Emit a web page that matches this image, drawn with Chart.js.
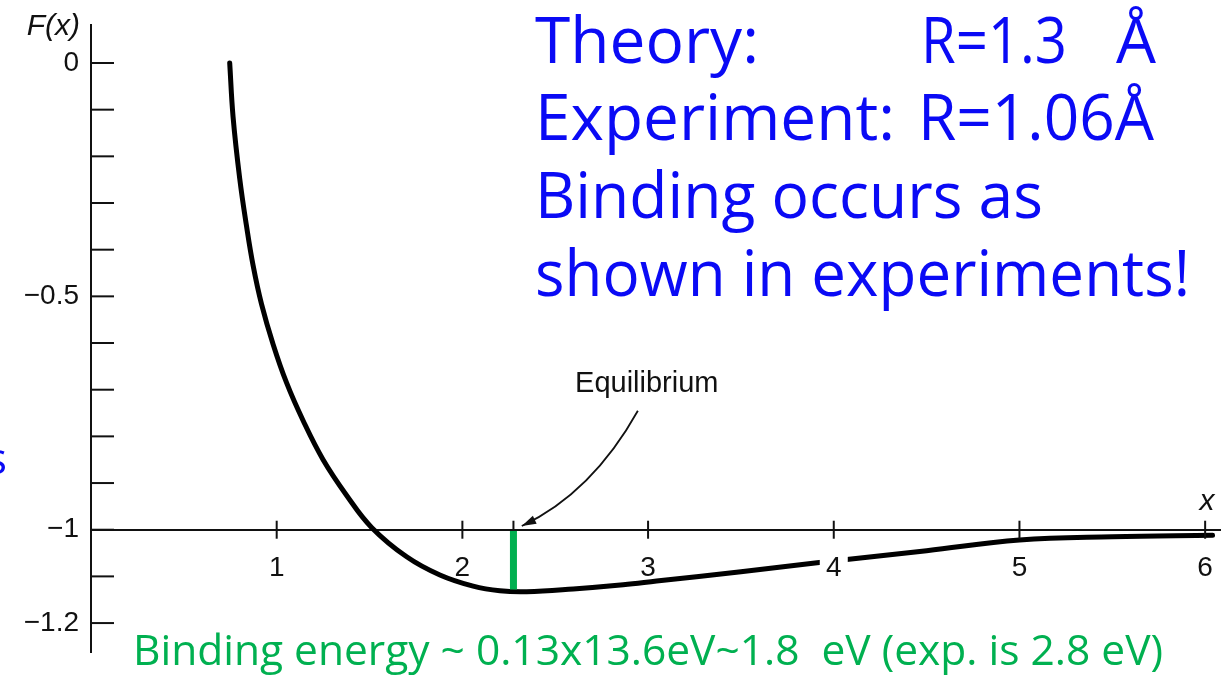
<!DOCTYPE html>
<html>
<head>
<meta charset="utf-8">
<script src="https://cdn.jsdelivr.net/npm/chart.js@4"></script>
<style>
  html, body { margin: 0; padding: 0; background: #fff; }
  #wrap { width: 1228px; height: 675px; position: relative; }
</style>
</head>
<body>
<div id="wrap"><canvas id="forceChart"></canvas></div>
<script>
// curve F(x)
const curveX = [0.747, 0.765, 0.801, 0.837, 0.873, 0.918, 0.981, 1.053, 1.142, 1.25, 1.376, 1.511, 1.70, 1.879, 2.058, 2.202, 2.346, 2.597, 2.866, 3.046, 3.5, 3.91, 4.5, 5.0, 5.5, 6.04];
const curveY = [0, -0.115, -0.248, -0.348, -0.434, -0.516, -0.603, -0.685, -0.766, -0.850, -0.926, -0.995, -1.058, -1.097, -1.121, -1.131, -1.133, -1.127, -1.118, -1.110, -1.090, -1.071, -1.045, -1.022, -1.015, -1.012];

// equilibrium marker (green bar)
const eqX = 2.275;
const eqY = [-1.003, -1.128];

const xTicks = [1, 2, 3, 4, 5, 6];
const xTickLabels = ["1", "2", "3", "4", "5", "6"];
const yTicks = [0, -0.1, -0.2, -0.3, -0.4, -0.5, -0.6, -0.7, -0.8, -0.9, -1.0, -1.1, -1.2];
const yTickLabels = ["0", "", "", "", "", "\u22120.5", "", "", "", "", "\u22121", "", "\u22121.2"];

// arrow from the "Equilibrium" label to the axis (data units)
const arrowStart = [2.945, -0.745];
const arrowCtrl = [2.698, -0.921];
const arrowEnd = [2.32, -0.992];
const eqLabelPos = [2.993, -0.687];

const blueLines = [
  { text: "Theory:", x: 535, y: 63, w: 226 },
  { text: "R=1.3", x: 921, y: 63, w: 146 },
  { text: "\u00C5", x: 1116, y: 63, w: 40 },
  { text: "Experiment:", x: 535, y: 140, w: 360 },
  { text: "R=1.06\u00C5", x: 918, y: 140, w: 236 },
  { text: "Binding occurs as", x: 535, y: 218, w: 508 },
  { text: "shown in experiments!", x: 535, y: 296, w: 655 }
];
const greenNote = "Binding energy ~ 0.13x13.6eV~1.8  eV (exp. is 2.8 eV)";

const BLUE = "#0a0af5";
const GREEN = "#00b050";
const handFont = '"Comic Sans MS", "Open Sans", sans-serif';
const axisFont = "'Liberation Sans', Arial, sans-serif";

const decorations = {
  id: "decorations",
  afterDatasetsDraw(chart) {
    // white gap in the curve behind the "4" label
    const { ctx, scales: { x, y } } = chart;
    const px = x.getPixelForValue(4);
    const py = y.getPixelForValue(-1);
    ctx.save();
    ctx.fillStyle = "#fff";
    ctx.fillRect(px - 14, py + 22, 28, 30);
    ctx.restore();
  },
  afterDraw(chart) {
    const { ctx, scales: { x, y } } = chart;
    const ax = x.getPixelForValue(0);
    const ay = y.getPixelForValue(-1);
    ctx.save();
    ctx.strokeStyle = "#111";
    ctx.lineWidth = 2;
    // y ticks, pointing inward
    yTicks.forEach(v => {
      const p = y.getPixelForValue(v);
      ctx.beginPath();
      ctx.moveTo(ax, p);
      ctx.lineTo(ax + 23, p);
      ctx.stroke();
    });
    // x ticks, crossing the axis
    xTicks.forEach(v => {
      const p = x.getPixelForValue(v);
      ctx.beginPath();
      ctx.moveTo(p, ay - 9);
      ctx.lineTo(p, ay + 9);
      ctx.stroke();
    });
    const pe = x.getPixelForValue(eqX);
    ctx.beginPath();
    ctx.moveTo(pe, ay - 9);
    ctx.lineTo(pe, ay);
    ctx.stroke();

    // axis names
    ctx.fillStyle = "#111";
    ctx.font = "italic 30px " + axisFont;
    ctx.textAlign = "right";
    ctx.textBaseline = "alphabetic";
    ctx.fillText("F(x)", 80, 35);
    ctx.textAlign = "center";
    ctx.fillText("x", x.getPixelForValue(6.01), ay - 20);

    // Equilibrium label and arrow
    ctx.font = "29px " + axisFont;
    ctx.textBaseline = "middle";
    ctx.fillText("Equilibrium", x.getPixelForValue(eqLabelPos[0]), y.getPixelForValue(eqLabelPos[1]));
    const s = [x.getPixelForValue(arrowStart[0]), y.getPixelForValue(arrowStart[1])];
    const c = [x.getPixelForValue(arrowCtrl[0]), y.getPixelForValue(arrowCtrl[1])];
    const e = [x.getPixelForValue(arrowEnd[0]), y.getPixelForValue(arrowEnd[1])];
    ctx.lineWidth = 1.8;
    ctx.beginPath();
    ctx.moveTo(s[0], s[1]);
    ctx.quadraticCurveTo(c[0], c[1], e[0], e[1]);
    ctx.stroke();
    const ang = Math.atan2(e[1] - c[1], e[0] - c[0]);
    ctx.fillStyle = "#111";
    ctx.beginPath();
    ctx.moveTo(e[0], e[1]);
    ctx.lineTo(e[0] - 15 * Math.cos(ang - 0.3), e[1] - 15 * Math.sin(ang - 0.3));
    ctx.lineTo(e[0] - 15 * Math.cos(ang + 0.3), e[1] - 15 * Math.sin(ang + 0.3));
    ctx.closePath();
    ctx.fill();

    // blue notes
    ctx.fillStyle = BLUE;
    ctx.textAlign = "left";
    ctx.textBaseline = "alphabetic";
    ctx.font = "64px " + handFont;
    blueLines.forEach(l => ctx.fillText(l.text, l.x, l.y, l.w));
    ctx.font = "44px " + handFont;
    ctx.fillText("s", -14, 474);

    // green note
    ctx.fillStyle = GREEN;
    ctx.font = "42.5px " + handFont;
    ctx.fillText(greenNote, 133, 665, 1030);
    ctx.restore();
  }
};

const ctx = document.getElementById("forceChart").getContext("2d");
new Chart(ctx, {
  type: "scatter",
  data: {
    datasets: [
      {
        label: "equilibrium",
        data: eqY.map(v => ({ x: eqX, y: v })),
        showLine: true,
        borderColor: GREEN,
        borderWidth: 7,
        borderCapStyle: "butt",
        pointRadius: 0
      },
      {
        label: "F(x)",
        data: curveX.map((v, i) => ({ x: v, y: curveY[i] })),
        showLine: true,
        borderColor: "#000",
        borderWidth: 5,
        borderCapStyle: "round",
        borderJoinStyle: "round",
        tension: 0.4,
        pointRadius: 0
      }
    ]
  },
  options: {
    responsive: true,
    maintainAspectRatio: false,
    animation: false,
    layout: { padding: { left: 0, right: 8, top: 25, bottom: 23 } },
    plugins: { legend: { display: false }, tooltip: { enabled: false } },
    scales: {
      x: {
        type: "linear",
        min: 0,
        max: 6.08,
        position: { y: -1 },
        grid: { display: false, drawTicks: false },
        border: { display: true, color: "#111", width: 2 },
        afterBuildTicks: s => { s.ticks = xTicks.map(v => ({ value: v })); },
        afterFit: s => { s.paddingLeft = 0; s.paddingRight = 0; },
        ticks: {
          z: 1,
          padding: 22,
          color: "#111",
          font: { family: axisFont, size: 28 },
          maxRotation: 0,
          callback: (v, i) => xTickLabels[i]
        }
      },
      y: {
        type: "linear",
        min: -1.262,
        max: 0.0814,
        position: "left",
        grid: { display: false, drawTicks: false },
        border: { display: true, color: "#111", width: 2 },
        afterBuildTicks: s => { s.ticks = yTicks.map(v => ({ value: v })); },
        afterFit: s => { s.width = 91; s.paddingTop = 0; s.paddingBottom = 0; },
        ticks: {
          padding: 12,
          color: "#111",
          font: { family: axisFont, size: 28 },
          callback: (v, i) => yTickLabels[i]
        }
      }
    }
  },
  plugins: [decorations]
});
</script>
</body>
</html>
